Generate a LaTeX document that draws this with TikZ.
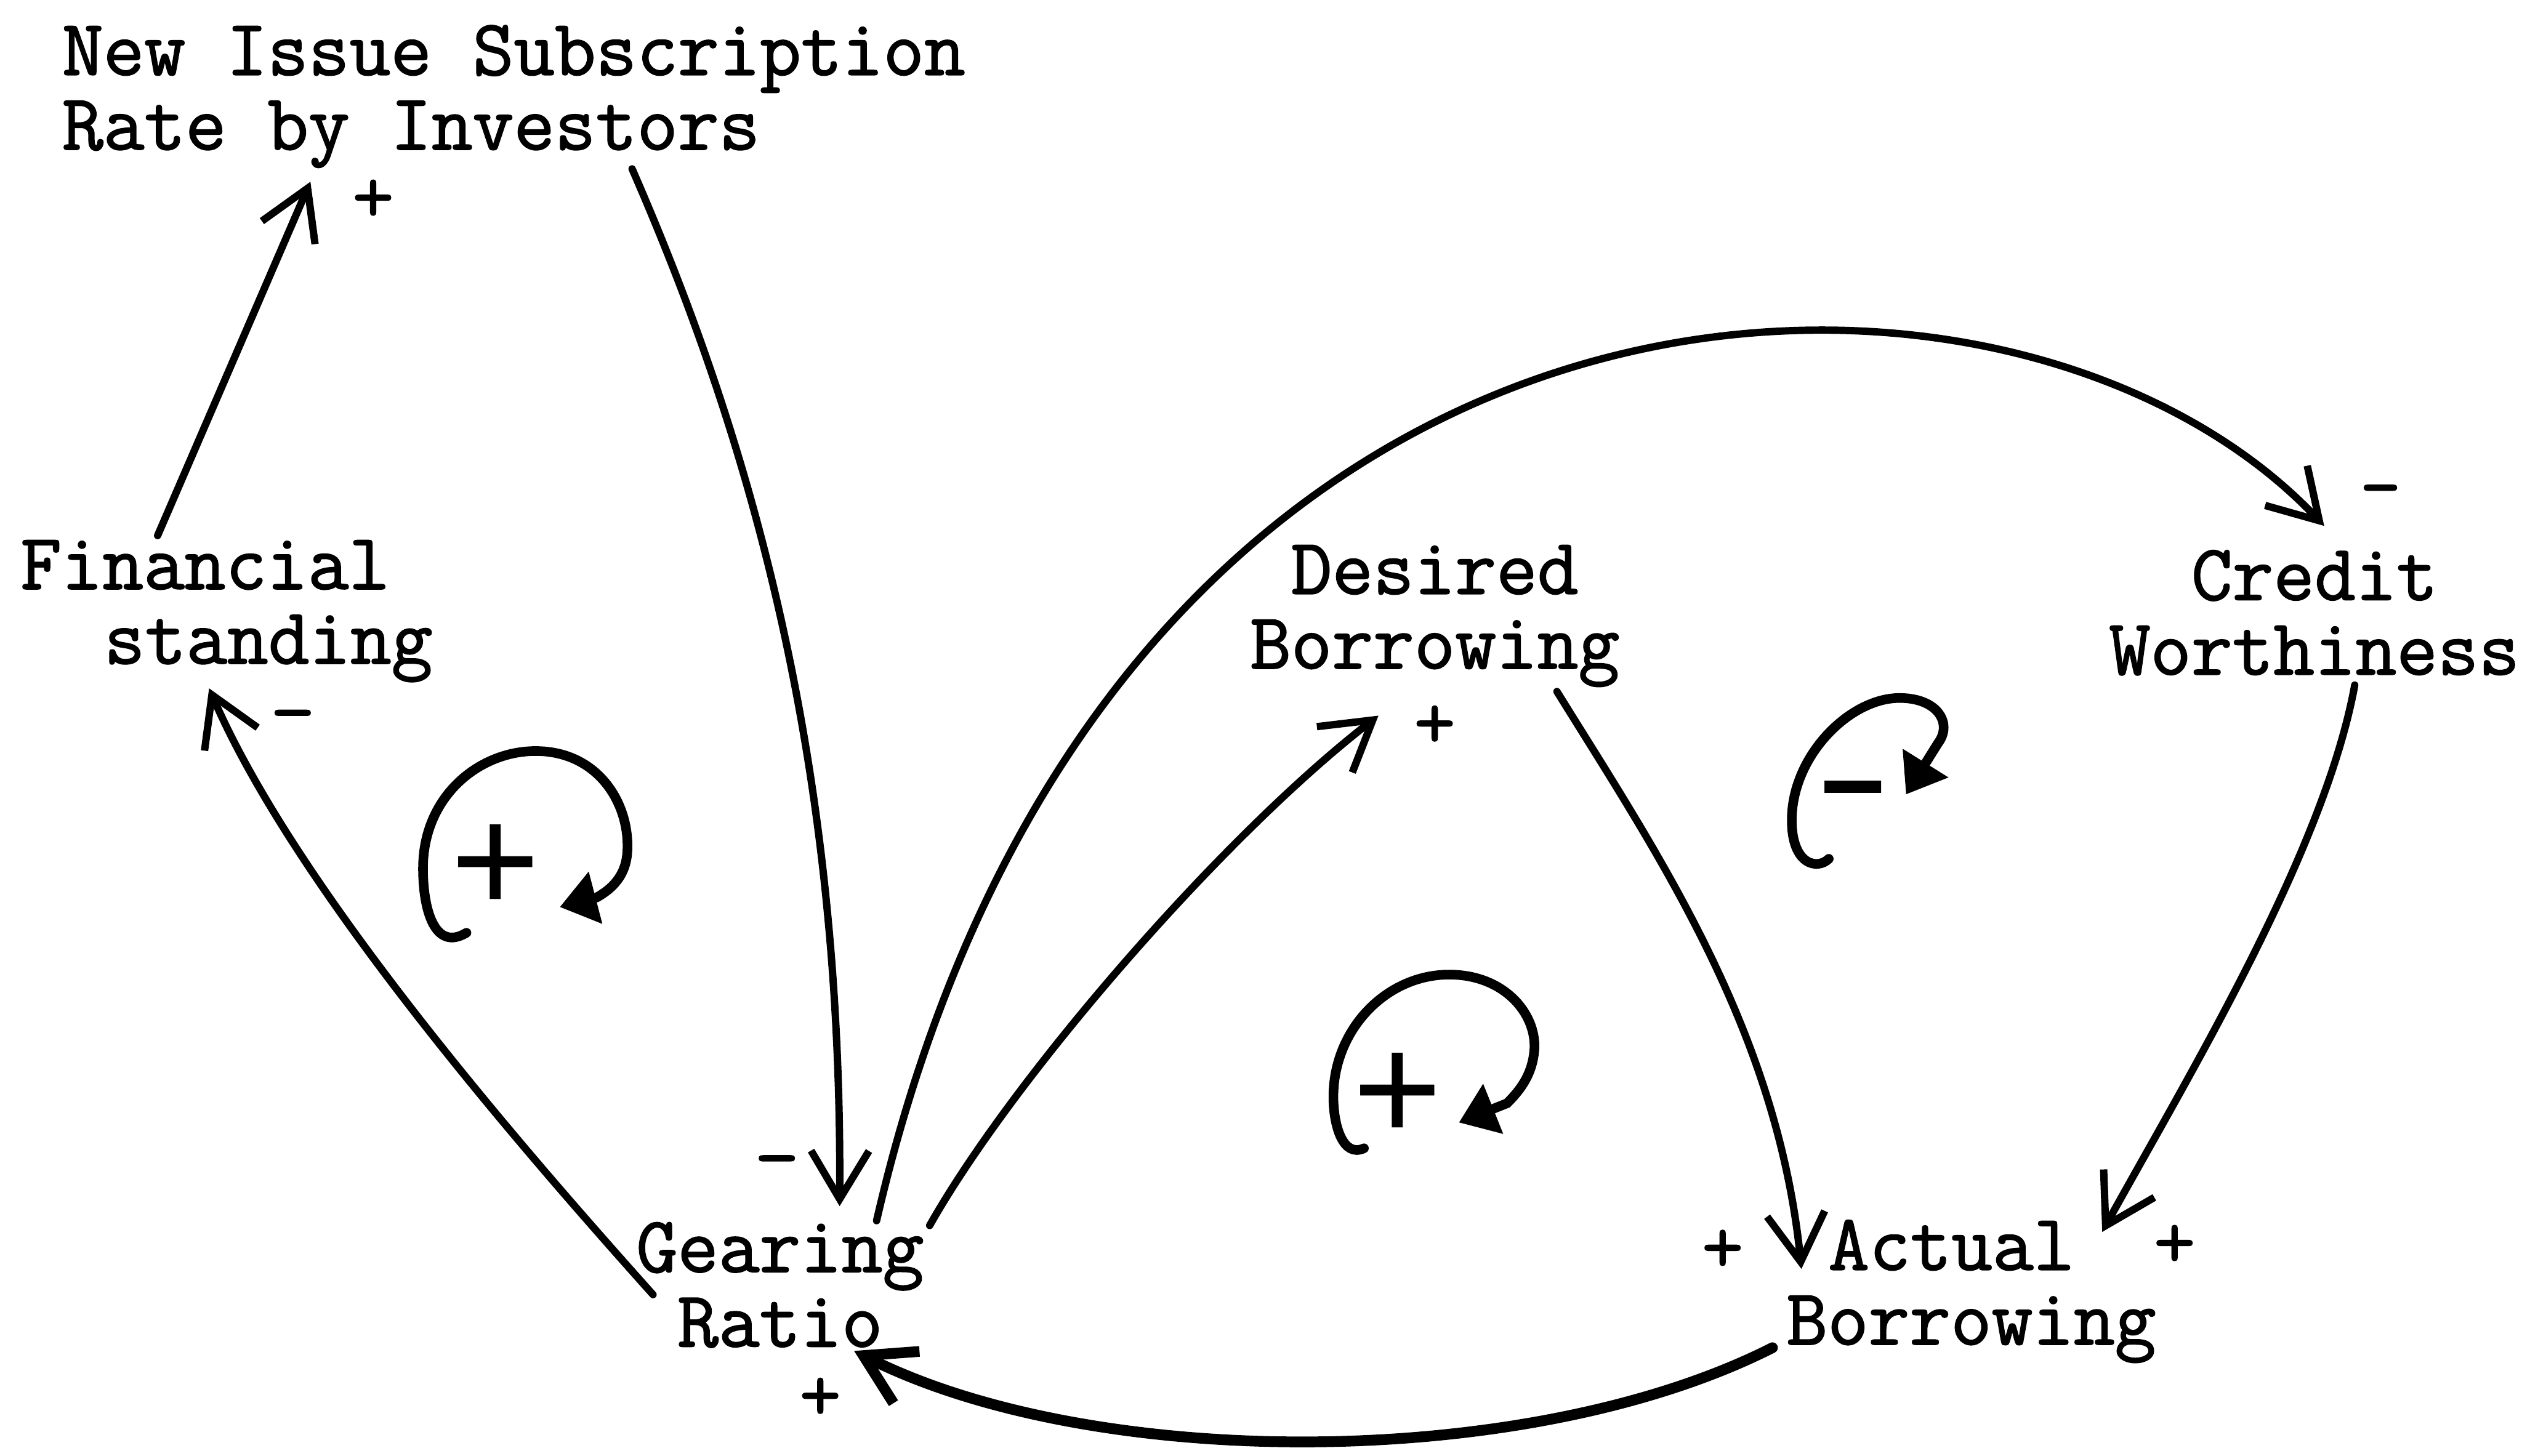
\documentclass[tikz,border=0pt]{standalone}
\usepackage{fontspec}
\newfontfamily\typer[FakeBold=1.5]{Latin Modern Mono}
\newfontfamily\signfont{Liberation Mono}
\usetikzlibrary{arrows.meta}

\begin{document}
\begin{tikzpicture}[
  x=0.1mm, y=-0.1mm,
  font=\typer\fontsize{14.1}{13.2}\selectfont,
  var/.style ={inner sep=0pt, align=center},
  varl/.style={inner sep=0pt, align=left, anchor=west},
  sign/.style={inner sep=0pt},
  loopsign/.style={inner sep=0pt, font=\signfont\fontsize{27}{27}\selectfont},
  link/.style={-{Straight Barb[length=3mm,width=3.6mm]}, line width=1.3pt, line cap=round},
  loopline/.style={-{Triangle[length=2.3mm,width=3.2mm]}, line width=1.7pt, line cap=round},
]
\useasboundingbox (0,0) rectangle (1568,905);

% variables
\node[varl] (issue) at (38,60) {New Issue Subscription\\Rate by Investors};
\node[varl] (fin) at (12,380) {Financial\\\hspace*{1.05em}standing};
\node[var] (des) at (892,383) {Desired\\Borrowing};
\node[var] (cred) at (1439,381) {Credit\\Worthiness};
\node[var] (gear) at (485,799) {Gearing\\Ratio};
\node[varl] (act) at (1110,803) {\hspace*{0.525em}Actual\\Borrowing};

% causal links
\draw[link] ([shift={(86,-47)}]fin.west) -- ([shift={(155,53)}]issue.west);
\draw[link] ([shift={(355,45)}]issue.west) .. controls +(72,165) and +(2,-280) .. ([shift={(37,-49)}]gear.center);
\draw[link] ([shift={(-79,6)}]gear.center) .. controls +(-76,-85) and +(55,127) .. ([shift={(118,48)}]fin.west);
\draw[link] ([shift={(93,-37)}]gear.center) .. controls +(52,-92) and +(-97,75) .. ([shift={(-35,62)}]des.center);
\draw[link] ([shift={(60,-40)}]gear.center) .. controls +(145,-629) and +(-195,-207) .. ([shift={(6,-54)}]cred.center);
\draw[link] ([shift={(76,47)}]des.center) .. controls +(62,100) and +(-15,-149) .. ([shift={(10,-14)}]act.west);
\draw[link] ([shift={(25,45)}]cred.center) .. controls +(-19,104) and +(53,-96) .. ([shift={(197,-37)}]act.west);
\draw[link, line width=1.9pt] ([shift={(-8,35)}]act.west) .. controls +(-152,77) and +(149,75) .. ([shift={(46,41)}]gear.center);

% link polarities
\node[sign] (sIssue) at (232,125) {+};
\node[sign] (sFin) at (182,450) {−};
\node[sign] (sGearTop) at (483,727) {−};
\node[sign] (sDes) at (892,452) {+};
\node[sign] (sCred) at (1480,310) {-};
\node[sign] (sActL) at (1071,778) {+};
\node[sign] (sActR) at (1352,775) {+};
\node[sign] (sGearBot) at (510,870) {+};

% loops
\node[loopsign] (loopA) at (308,540) {+};
\node[loopsign] (loopB) at (869,682) {+};
\node[loopsign, font=\signfont\bfseries\fontsize{20}{20}\selectfont] (loopC) at (1152,499) {−};
\draw[loopline] (290,580) .. controls (270,592) and (263,565) .. (263,540)
  .. controls (263,495) and (298,467) .. (333,467)
  .. controls (372,467) and (392,500) .. (390,530)
  .. controls (389,545) and (380,553) .. (371,558) -- (348,564);
\draw[loopline] (848,714) .. controls (835,720) and (829,700) .. (829,682)
  .. controls (829,640) and (862,606) .. (901,606)
  .. controls (935,606) and (955,630) .. (954,652)
  .. controls (953,668) and (945,678) .. (937,686) -- (907,698);
\draw[loopline] (1137,534) .. controls (1130,541) and (1114,538) .. (1114,510)
  .. controls (1114,470) and (1150,434) .. (1181,434)
  .. controls (1205,434) and (1214,450) .. (1205,462) -- (1185,494);

\end{tikzpicture}
\end{document}
